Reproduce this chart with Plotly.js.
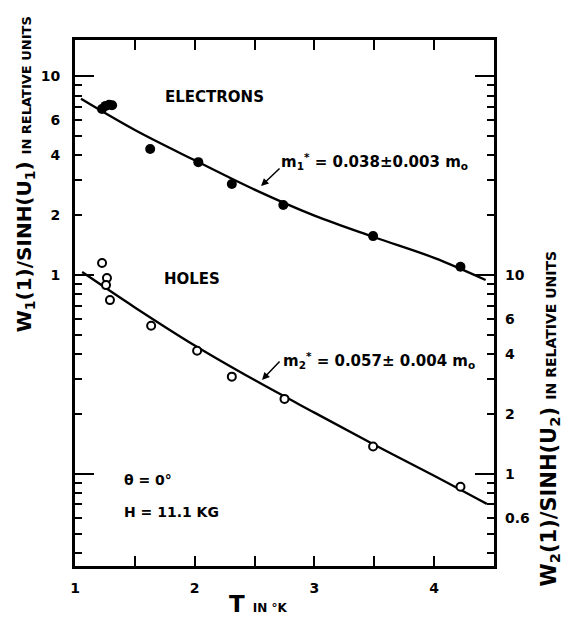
<!DOCTYPE html>
<html>
<head>
<meta charset="utf-8">
<script src="https://cdn.plot.ly/plotly-3.0.1.min.js"></script>
<style>html,body{margin:0;padding:0;background:#fff;}#chart{width:564px;height:619px;}</style>
</head>
<body>
<div id="chart"></div>
<script>
// ---- data ----
// Electrons: left axis, W1(1)/sinh(u1), relative units
const elecT = [1.225, 1.255, 1.285, 1.31, 1.628, 2.03, 2.31, 2.74, 3.49, 4.22];
const elecW = [6.85, 7.1, 7.2, 7.15, 4.31, 3.70, 2.87, 2.25, 1.57, 1.10];
// Electron fitted curve (m1* = 0.038 m0)
const elecFitT = [1.05, 1.5, 2.0, 2.5, 3.0, 3.5, 4.0, 4.43];
const elecFitW = [7.71, 5.37, 3.78, 2.69, 1.99, 1.55, 1.22, 0.944];
// Holes: right axis, W2(1)/sinh(u2), relative units
const holeT = [1.226, 1.267, 1.259, 1.292, 1.636, 2.02, 2.31, 2.75, 3.49, 4.22];
const holeW = [11.5, 9.66, 8.9, 7.48, 5.56, 4.16, 3.08, 2.38, 1.37, 0.86];
// Hole fitted curve (m2* = 0.057 m0)
const holeFitT = [1.06, 1.5, 2.0, 2.5, 3.0, 3.5, 4.0, 4.44];
const holeFitW = [10.35, 6.87, 4.42, 2.96, 2.03, 1.40, 0.977, 0.705];

// axis ticks
const xTickVals = [1, 1.5, 2, 2.5, 3, 3.5, 4];
const xTickText = ['1', '', '2', '', '3', '', '4'];
const leftTickVals = [0.04,0.05,0.06,0.07,0.08,0.09,0.1,0.2,0.3,0.4,0.5,0.6,0.7,0.8,0.9,1,2,3,4,5,6,7,8,9,10];
const leftLabels = {1:'1', 2:'2', 4:'4', 6:'6', 10:'10'};
const majorTickVals = [0.1, 1, 10];
const rightTickVals = [0.6, 1, 2, 4, 6, 10];
const rightTickText = ['0.6', '1', '2', '4', '6', '10'];

const FONT = 'DejaVu Sans';
const leftRange = [-1.4645, 1.183];
const rightRange = [leftRange[0] + 1, leftRange[1] + 1];

const traces = [
  {x: elecFitT, y: elecFitW, mode: 'lines', line: {color: '#000', width: 2.3, shape: 'spline', smoothing: 1}, xaxis: 'x', yaxis: 'y', hoverinfo: 'skip'},
  {x: elecT, y: elecW, mode: 'markers', marker: {color: '#000', size: 10, symbol: 'circle'}, xaxis: 'x', yaxis: 'y'},
  {x: holeFitT, y: holeFitW, mode: 'lines', line: {color: '#000', width: 2.3, shape: 'spline', smoothing: 1}, xaxis: 'x', yaxis: 'y2', hoverinfo: 'skip'},
  {x: holeT, y: holeW, mode: 'markers', marker: {color: '#fff', size: 8, symbol: 'circle', line: {color: '#000', width: 2}}, xaxis: 'x', yaxis: 'y2'},
  {x: [], y: [], mode: 'markers', xaxis: 'x', yaxis: 'y3', showlegend: false}
];

const tickfont = {family: FONT, size: 14, color: '#000', weight: 'bold'};

const layout = {
  width: 564, height: 619,
  margin: {l: 75, r: 70, t: 40, b: 53, pad: 0},
  paper_bgcolor: '#fff', plot_bgcolor: '#fff',
  showlegend: false,
  font: {family: FONT, color: '#000'},
  xaxis: {
    range: [1, 4.5], showgrid: false, zeroline: false,
    showline: true, linewidth: 3, linecolor: '#000', mirror: 'ticks',
    ticks: 'inside', ticklen: 10, tickwidth: 2, tickcolor: '#000',
    tickmode: 'array', tickvals: xTickVals, ticktext: xTickText,
    tickfont: tickfont, ticklabelstandoff: 7
  },
  yaxis: {
    type: 'log', range: leftRange, showgrid: false, zeroline: false,
    showline: true, linewidth: 3, linecolor: '#000', mirror: 'ticks',
    ticks: 'inside', ticklen: 7, tickwidth: 2, tickcolor: '#000',
    tickmode: 'array', tickvals: leftTickVals,
    ticktext: leftTickVals.map(v => leftLabels[v] || ''),
    tickfont: tickfont, ticklabelstandoff: 9
  },
  yaxis2: {
    type: 'log', range: rightRange, overlaying: 'y', side: 'right', anchor: 'x',
    showgrid: false, zeroline: false, showline: false, ticks: '',
    tickmode: 'array', tickvals: rightTickVals, ticktext: rightTickText,
    tickfont: tickfont, ticklabelstandoff: 10
  },
  yaxis3: {
    type: 'log', range: leftRange, overlaying: 'y', side: 'left', anchor: 'x',
    showgrid: false, zeroline: false, showline: true, linewidth: 3, linecolor: '#000', mirror: 'ticks',
    ticks: 'inside', ticklen: 19, tickwidth: 2, tickcolor: '#000',
    tickmode: 'array', tickvals: majorTickVals, showticklabels: false
  },
  annotations: [
    {text: 'ELECTRONS', xref: 'x', yref: 'y', x: 2.165, y: 0.896, showarrow: false,
     font: {family: FONT, size: 15, color: '#000', weight: 'bold'}},
    {text: 'HOLES', xref: 'x', yref: 'y', x: 1.977, y: -0.020, showarrow: false,
     font: {family: FONT, size: 15, color: '#000', weight: 'bold'}},
    {text: 'm<sub>1</sub><sup>*</sup> = 0.038±0.003 m<sub>o</sub>', xref: 'x', yref: 'y', x: 2.70, y: 0.569,
     xanchor: 'left', yanchor: 'middle', showarrow: false,
     font: {family: FONT, size: 15, color: '#000', weight: 'bold'}},
    {text: 'm<sub>2</sub><sup>*</sup> = 0.057± 0.004 m<sub>o</sub>', xref: 'x', yref: 'y', x: 2.72, y: -0.428,
     xanchor: 'left', yanchor: 'middle', showarrow: false,
     font: {family: FONT, size: 15, color: '#000', weight: 'bold'}},
    {text: '', xref: 'x', yref: 'y', x: 2.554, y: 0.448, ax: 20, ay: -19, showarrow: true,
     arrowhead: 2, arrowsize: 1, arrowwidth: 1.5, arrowcolor: '#000'},
    {text: '', xref: 'x', yref: 'y', x: 2.562, y: -0.528, ax: 19, ay: -20, showarrow: true,
     arrowhead: 2, arrowsize: 1, arrowwidth: 1.5, arrowcolor: '#000'},
    {text: 'θ = 0°', xref: 'x', yref: 'y', x: 1.393, y: -1.032, xanchor: 'left', showarrow: false,
     font: {family: FONT, size: 14, color: '#000', weight: 'bold'}},
    {text: 'H = 11.1 KG', xref: 'x', yref: 'y', x: 1.393, y: -1.193, xanchor: 'left', showarrow: false,
     font: {family: FONT, size: 14, color: '#000', weight: 'bold'}},
    {text: 'W<sub>1</sub>(1)/SINH(U<sub>1</sub>) <span style="font-size:13px">IN RELATIVE UNITS</span>',
     xref: 'paper', yref: 'paper', x: -0.119, y: 0.745, textangle: -90, showarrow: false,
     xanchor: 'center', yanchor: 'middle',
     font: {family: FONT, size: 20, color: '#000', weight: 'bold'}},
    {text: 'W<sub>2</sub>(1)/SINH(U<sub>2</sub>) <span style="font-size:14px">IN RELATIVE UNITS</span>',
     xref: 'paper', yref: 'paper', x: 1.133, y: 0.28, textangle: -90, showarrow: false,
     xanchor: 'center', yanchor: 'middle',
     font: {family: FONT, size: 21, color: '#000', weight: 'bold'}},
    {text: 'T <span style="font-size:12px">IN °K</span>',
     xref: 'paper', yref: 'paper', x: 0.4356, y: -0.072, showarrow: false,
     xanchor: 'center', yanchor: 'middle',
     font: {family: FONT, size: 23, color: '#000', weight: 'bold'}}
  ]
};

Plotly.newPlot('chart', traces, layout, {staticPlot: true, displayModeBar: false});
</script>
</body>
</html>
